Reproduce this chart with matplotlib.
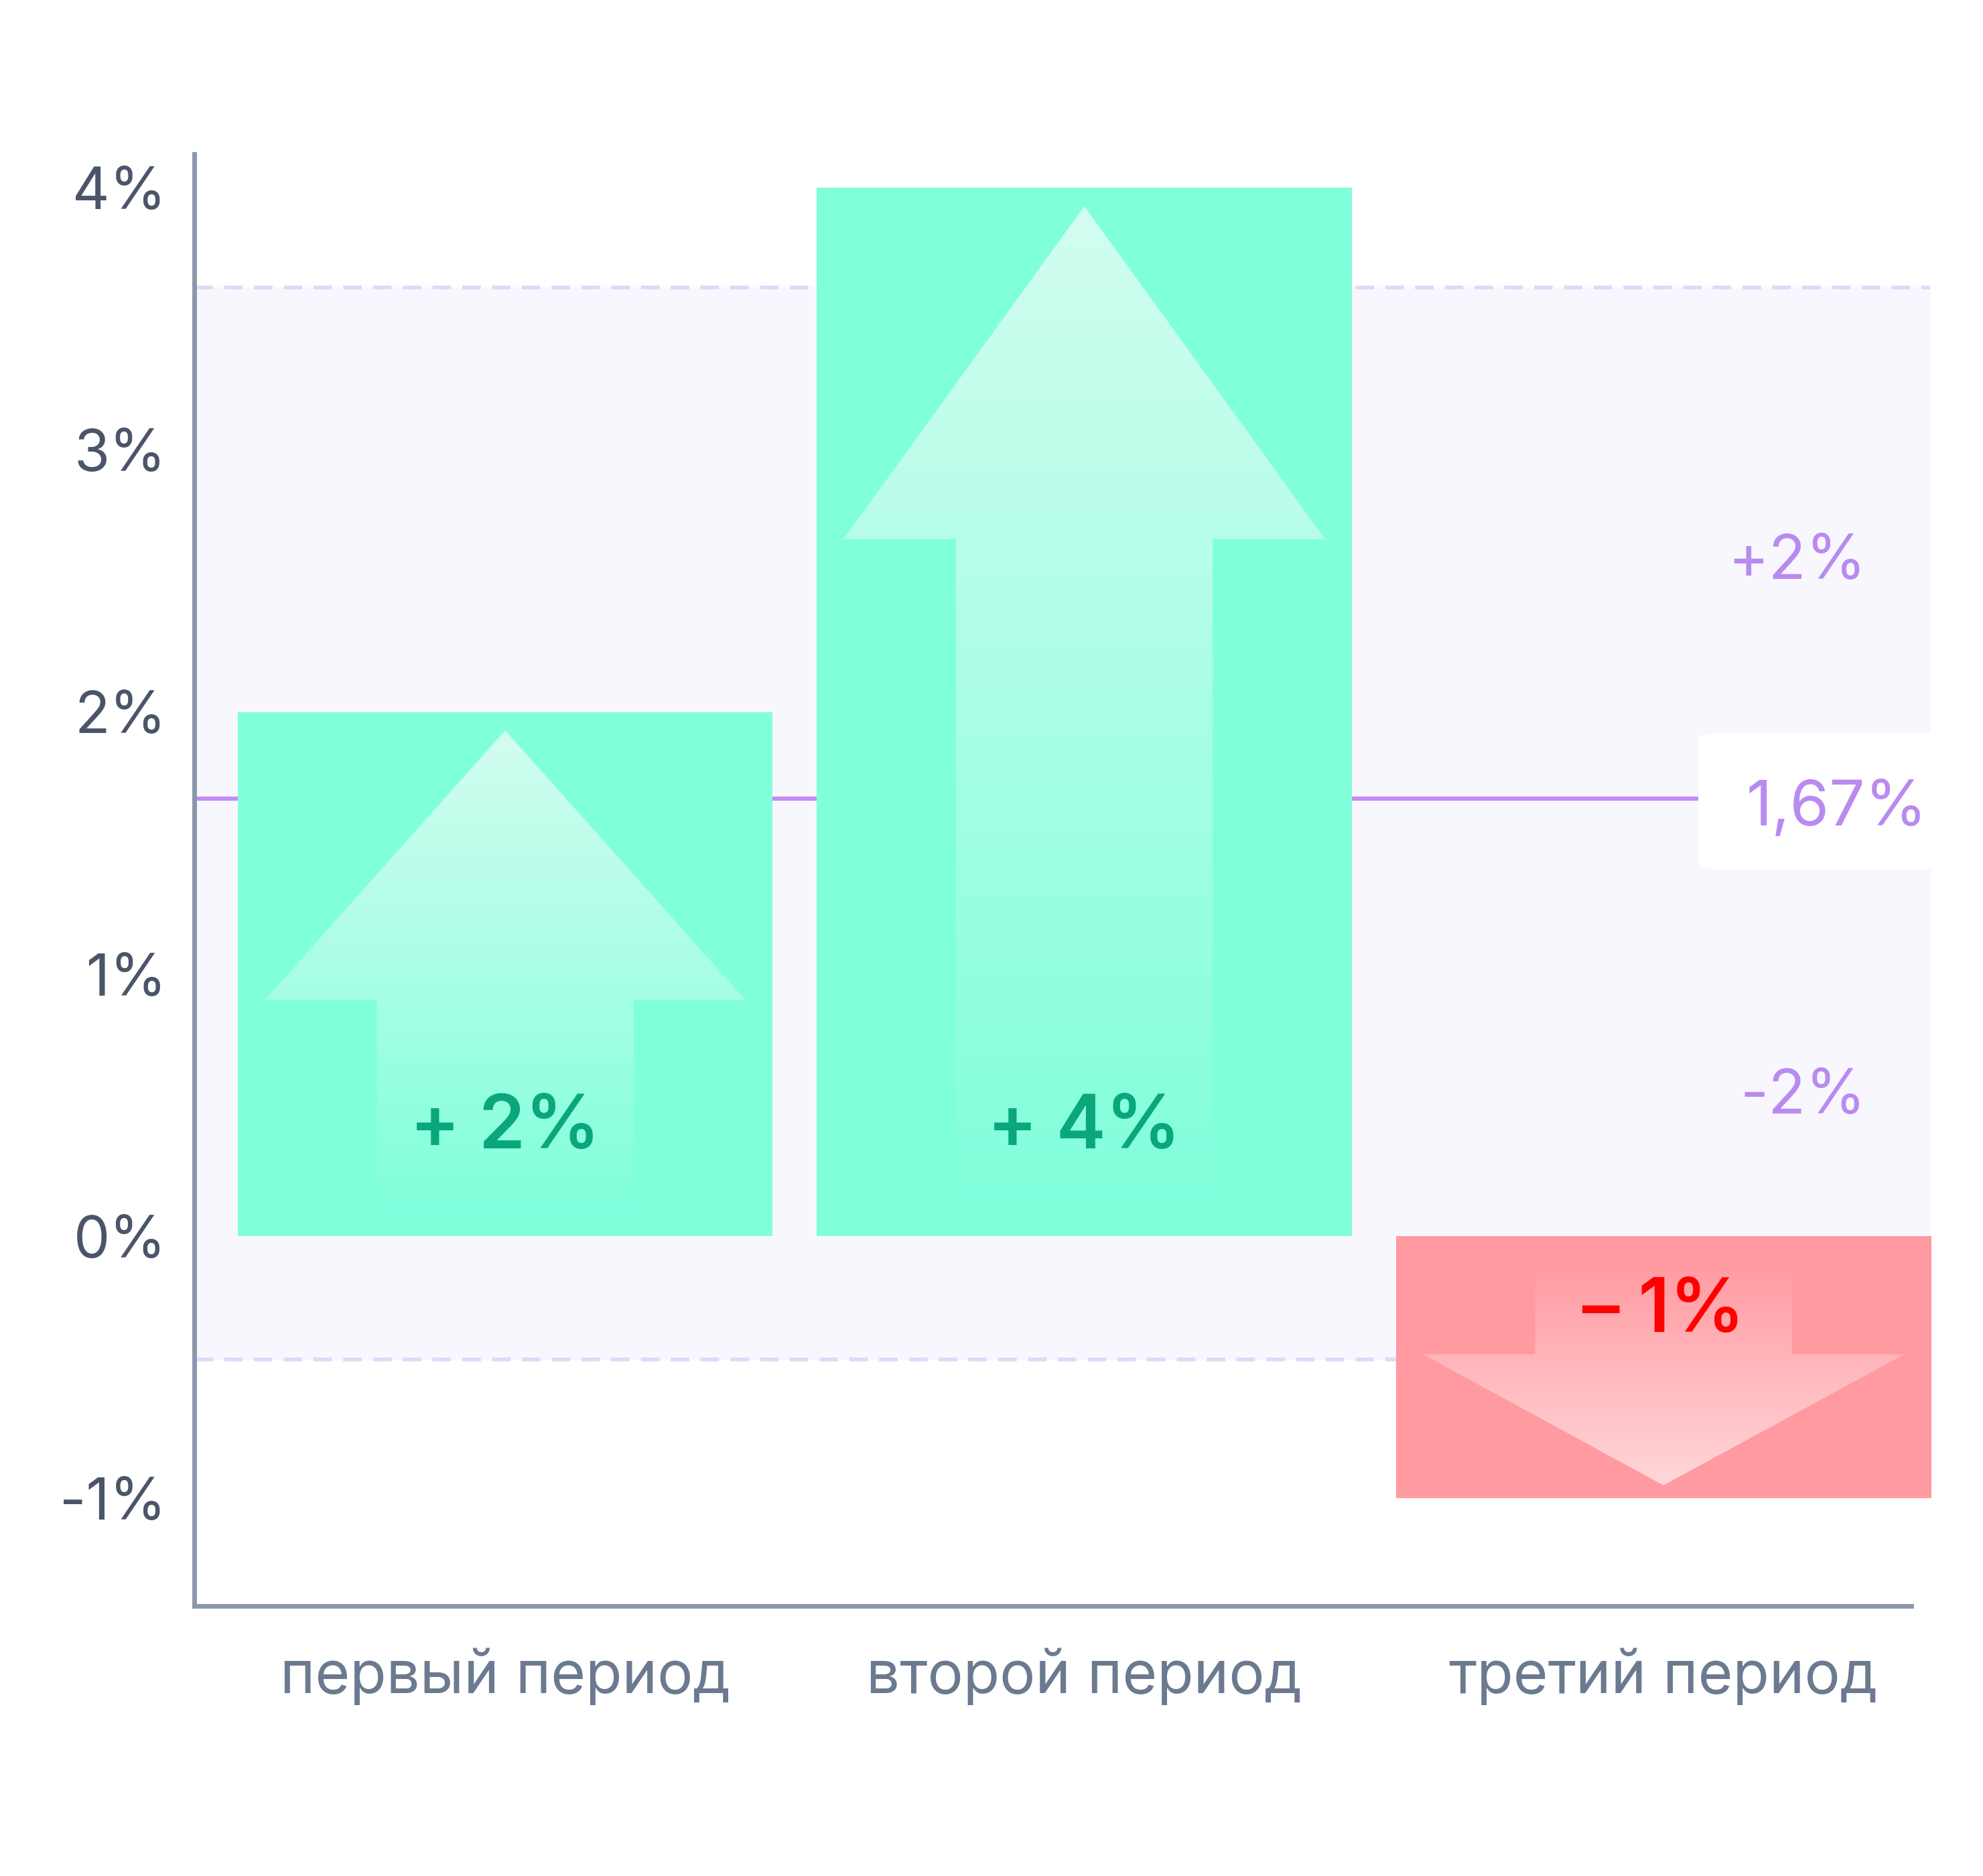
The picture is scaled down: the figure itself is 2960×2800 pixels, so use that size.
import matplotlib
matplotlib.use("Agg")
import matplotlib.pyplot as plt
import numpy as np
from matplotlib.patches import Polygon, FancyBboxPatch
from matplotlib.colors import LinearSegmentedColormap

categories = ["первый период", "второй период", "третий период"]
values = [2, 4, -1]
labels = ["+ 2%", "+ 4%", "– 1%"]
mean_val = 1.67
band_hi, band_lo = 3.62, -0.47
yticks = [-1, 0, 1, 2, 3, 4]
ytick_labels = ["-1%", "0%", "1%", "2%", "3%", "4%"]

plt.rcParams["font.family"] = "Inter"
fig = plt.figure(figsize=(29.6, 28), dpi=100)
ax = fig.add_axes([0.0979, 0.144, 0.866, 0.774])
ax.set_xlim(-0.537, 2.428)
ax.set_ylim(-1.41, 4.13)
W = 0.924
x = np.arange(len(categories))

xr = 2.46
ax.fill_between([-0.537, xr], band_lo, band_hi, color="#F9F7FE", zorder=0, clip_on=False)
for yv in (band_hi, band_lo):
    ax.plot([-0.537, xr], [yv, yv], ls=(0, (5, 3)), color="#E5D5FB", lw=4, zorder=1, clip_on=False)
ax.plot([-0.537, xr], [mean_val, mean_val], color="#C58BF2", lw=4.5, zorder=1, clip_on=False)

green_cm = LinearSegmentedColormap.from_list("g", ["#D2FDF0", "#80FFDB"])
red_cm = LinearSegmentedColormap.from_list("r", ["#FFD6DA", "#FF9AA0"])
for i, v in enumerate(values):
    c = "#80FFDB" if v > 0 else "#FF9AA0"
    ax.bar(x[i], v, width=W, color=c, zorder=2, clip_on=False)
    h = abs(v)
    hw = 0.90 * W / 2
    sw = 0.48 * W / 2
    if v > 0:
        tip = v - 0.07
        base = v - (1.1 if h < 3 else 1.34)
        bottom = 0.08
        pts = [(x[i], tip), (x[i] + hw, base), (x[i] + sw, base), (x[i] + sw, bottom),
               (x[i] - sw, bottom), (x[i] - sw, base), (x[i] - hw, base)]
        ext = [x[i] - hw, x[i] + hw, bottom, tip]
        grad = np.linspace(0, 1, 100).reshape(-1, 1)
        cm = green_cm
    else:
        tip = v + 0.05
        base = -0.45
        top = -0.08
        pts = [(x[i], tip), (x[i] + hw, base), (x[i] + sw, base), (x[i] + sw, top),
               (x[i] - sw, top), (x[i] - sw, base), (x[i] - hw, base)]
        ext = [x[i] - hw, x[i] + hw, tip, top]
        grad = np.linspace(1, 0, 100).reshape(-1, 1)
        cm = red_cm
    poly = Polygon(pts, closed=True, transform=ax.transData, facecolor="none", edgecolor="none")
    ax.add_patch(poly)
    im = ax.imshow(grad, cmap=cm, extent=ext, aspect="auto", zorder=3, origin="upper")
    im.set_clip_path(poly)
    ly = 0.41 if v > 0 else -0.29
    ax.text(x[i], ly, labels[i], ha="center", va="center", fontsize=80, fontweight=600,
            color="#0AA77A" if v > 0 else "#FF0000", zorder=5)

box = FancyBboxPatch((2.06, 1.40), 0.42, 0.52, boxstyle="round,pad=0,rounding_size=0.03",
                     transform=ax.transData, facecolor="white", edgecolor="none", zorder=4, clip_on=False)
ax.add_patch(box)
ax.text(2.455, mean_val - 0.04, "1,67%", ha="right", va="center", fontsize=68, color="#B98AF0", zorder=5, clip_on=False)
ax.text(2.35, 2.57, "+2%", ha="right", va="center", fontsize=66, color="#B98AF0", zorder=5)
ax.text(2.35, 0.53, "-2%", ha="right", va="center", fontsize=66, color="#B98AF0", zorder=5)

ax.set_xticks(x)
ax.set_xticklabels(categories, fontsize=64, color="#6B7A90")
ax.set_yticks(yticks)
ax.set_yticklabels(ytick_labels, fontsize=62, color="#4A5568")
ax.tick_params(length=0, pad=30)
ax.tick_params(axis="x", pad=45)
for sp in ("top", "right"):
    ax.spines[sp].set_visible(False)
for sp in ("left", "bottom"):
    ax.spines[sp].set_color("#8A97AB")
    ax.spines[sp].set_linewidth(5)
ax.set_facecolor("none")
fig.savefig("out.png", dpi=100, facecolor="white")
